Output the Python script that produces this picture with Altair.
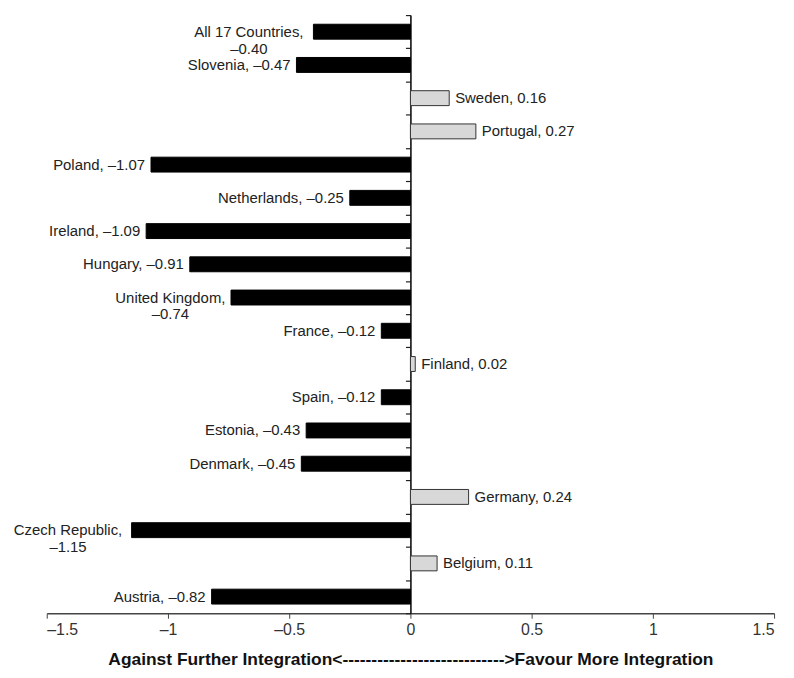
import altair as alt
import pandas as pd

countries = ["All 17 Countries", "Slovenia", "Sweden", "Portugal", "Poland",
             "Netherlands", "Ireland", "Hungary", "United Kingdom", "France",
             "Finland", "Spain", "Estonia", "Denmark", "Germany",
             "Czech Republic", "Belgium", "Austria"]
values = [-0.40, -0.47, 0.16, 0.27, -1.07, -0.25, -1.09, -0.91, -0.74, -0.12,
          0.02, -0.12, -0.43, -0.45, 0.24, -1.15, 0.11, -0.82]
x_ticks = [-1.5, -1, -0.5, 0, 0.5, 1, 1.5]
two_line = ["All 17 Countries", "United Kingdom", "Czech Republic"]


def fmt(v):
    s = f"{abs(v):.2f}"
    return ("–" + s) if v < 0 else s


rows = []
for c, v in zip(countries, values):
    sep = ",\n" if c in two_line else ", "
    rows.append({"country": c, "value": v, "label": c + sep + fmt(v)})
df = pd.DataFrame(rows)

FONT = "Liberation Sans"
TXT = "#222222"

y_enc = alt.Y("country:N", sort=countries,
              scale=alt.Scale(paddingInner=0, paddingOuter=0),
              axis=alt.Axis(labels=False, title=None, offset=-366,
                            tickBand="extent", tickSize=5, tickColor="#222",
                            domainColor="#111", domainWidth=1.6, tickWidth=1.2))

x_enc = alt.X("value:Q",
              scale=alt.Scale(domain=[-1.5, 1.5], nice=False, zero=False),
              axis=alt.Axis(values=x_ticks,
                            labelExpr="datum.value < 0 ? '–' + format(-datum.value, '~g') : format(datum.value, '~g')",
                            title="Against Further Integration<---------------------------->Favour More Integration",
                            titleFont=FONT, titleFontSize=17.5, titleFontWeight="bold",
                            titleColor="#111", titlePadding=14,
                            labelFont=FONT, labelFontSize=16, labelColor="#333",
                            labelPadding=3, tickSize=5, tickColor="#444",
                            domainColor="#444", domainWidth=1.4, grid=False))

bars = alt.Chart(df).mark_bar(size=15, strokeWidth=1).encode(
    x=x_enc,
    x2=alt.datum(0),
    y=y_enc,
    color=alt.condition("datum.value < 0", alt.value("#000000"), alt.value("#d8d8d8")),
    stroke=alt.condition("datum.value < 0", alt.value("#000000"), alt.value("#333333")),
)

base_text = alt.Chart(df)

neg_text = base_text.transform_filter(
    f"datum.value < 0 && indexof({two_line!r}, datum.country) < 0"
).mark_text(align="right", baseline="middle", dx=-6, font=FONT, fontSize=15, color=TXT).encode(
    x="value:Q", y=alt.Y("country:N", sort=countries), text="label:N")

pos_text = base_text.transform_filter("datum.value >= 0").mark_text(
    align="left", baseline="middle", dx=6, font=FONT, fontSize=15, color=TXT).encode(
    x="value:Q", y=alt.Y("country:N", sort=countries), text="label:N")

multi_dx = {"All 17 Countries": -65, "United Kingdom": -61, "Czech Republic": -64}
multi_layers = []
for name in two_line:
    multi_layers.append(
        base_text.transform_filter(alt.datum.country == name).mark_text(
            align="center", baseline="middle", dx=multi_dx[name], lineBreak="\n",
            lineHeight=17, font=FONT, fontSize=15, color=TXT).encode(
            x="value:Q", y=alt.Y("country:N", sort=countries), text="label:N")
    )

chart = alt.layer(bars, neg_text, pos_text, *multi_layers).properties(
    width=732, height=602,
    autosize=alt.AutoSizeParams(type="none"),
    padding={"left": 39, "top": 5, "right": 12, "bottom": 55},
    background="white",
).configure_view(stroke=None).configure_axis(grid=False)

chart.save("out.html", embed_options={"renderer": "svg", "actions": False})
